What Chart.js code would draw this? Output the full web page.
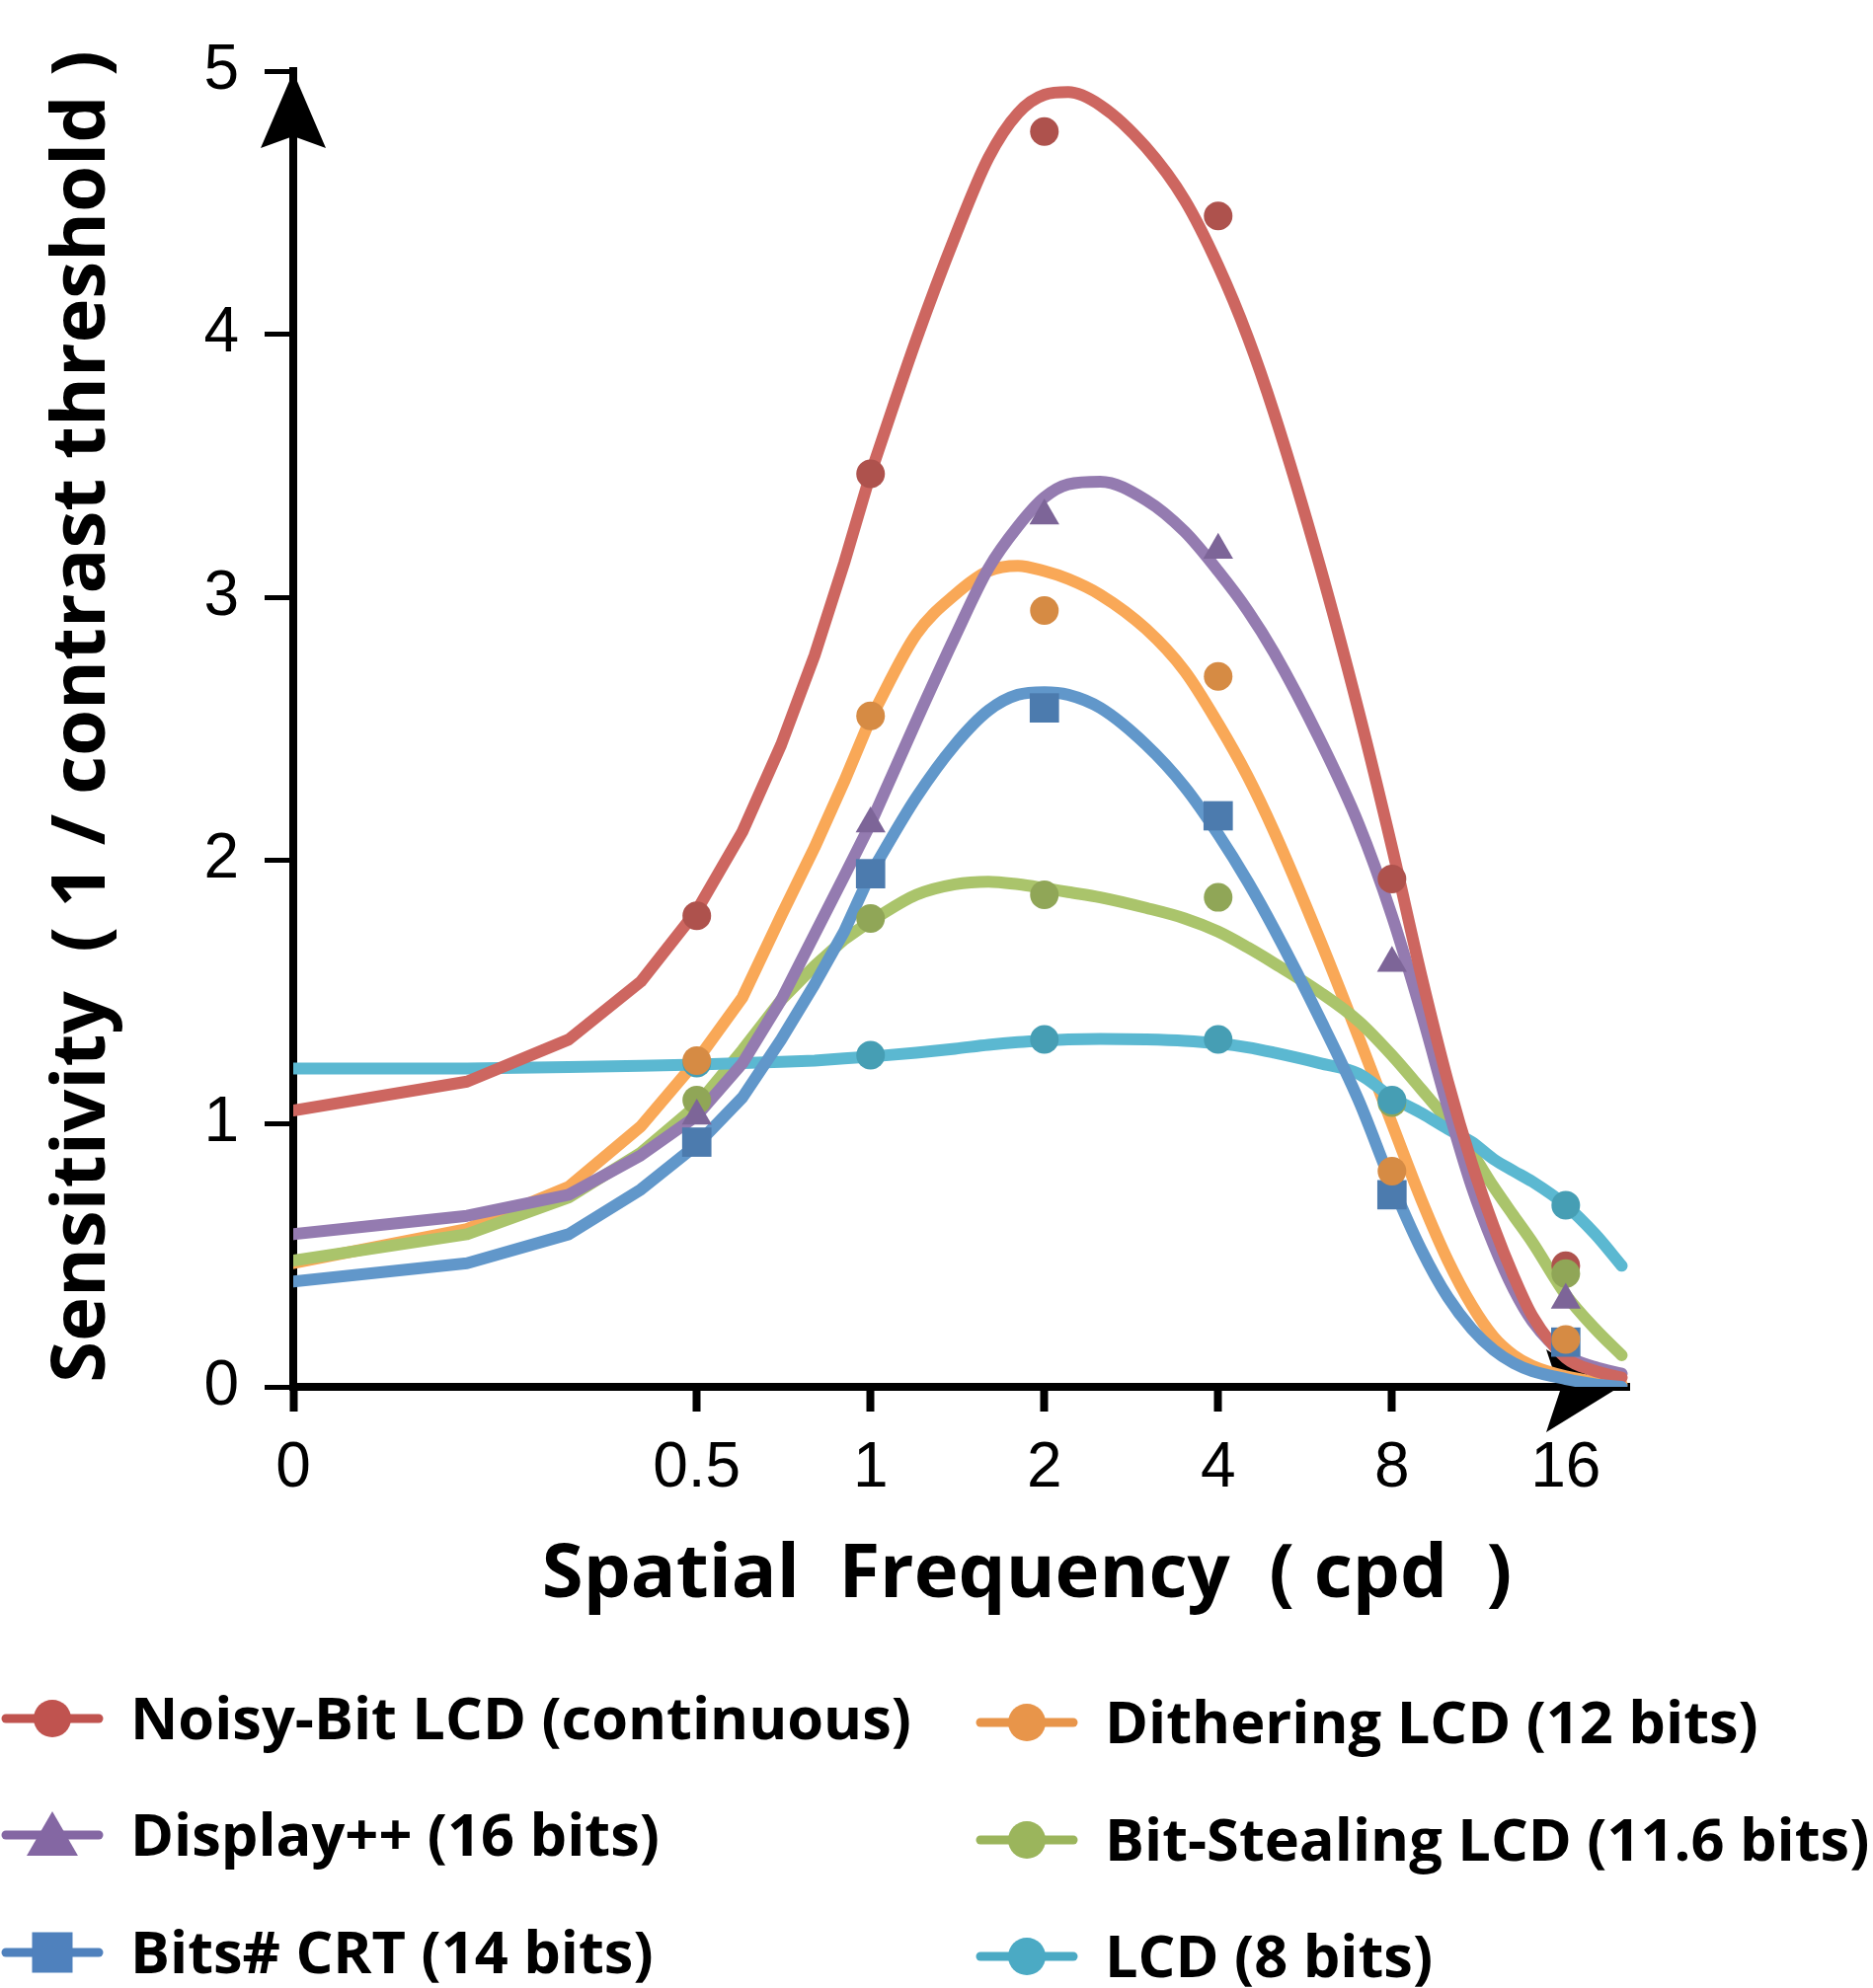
<!DOCTYPE html>
<html>
<head>
<meta charset="utf-8">
<title>Sensitivity vs Spatial Frequency</title>
<script src="https://cdn.jsdelivr.net/npm/chart.js@4.4.1/dist/chart.umd.min.js"></script>
<style>
html,body{margin:0;padding:0;background:#ffffff;}
canvas{display:block;}
</style>
</head>
<body>
<canvas id="chart" width="1897" height="2014"></canvas>
<script>
// ---------- data ----------
const curveFreqs = [0.1,0.2,0.3,0.4,0.5,0.6,0.7,0.8,0.9,1.0,1.2,1.4,1.6,1.8,2.0,2.2,2.5,3.0,3.5,4.0,4.5,5.0,6.0,7.0,8.0,9.0,10,11,12,13,14,16,18,20];

const noisyCurve   = [1.05,1.16,1.32,1.54,1.81,2.11,2.44,2.78,3.13,3.47,3.98,4.37,4.67,4.84,4.91,4.92,4.87,4.71,4.51,4.26,3.99,3.70,3.12,2.57,2.05,1.56,1.16,0.85,0.61,0.42,0.27,0.11,0.06,0.035];
const displayCurve = [0.58,0.65,0.73,0.88,1.03,1.23,1.47,1.72,1.94,2.14,2.53,2.85,3.11,3.27,3.38,3.43,3.44,3.37,3.25,3.10,2.95,2.79,2.46,2.14,1.79,1.42,1.06,0.76,0.54,0.37,0.25,0.12,0.075,0.05];
const bitsCurve    = [0.40,0.47,0.58,0.75,0.92,1.10,1.32,1.53,1.73,1.95,2.24,2.44,2.57,2.63,2.64,2.63,2.58,2.44,2.28,2.10,1.92,1.74,1.40,1.09,0.77,0.52,0.34,0.22,0.14,0.09,0.06,0.03,0.01,0.0];
const ditherCurve  = [0.47,0.60,0.76,0.99,1.24,1.48,1.79,2.05,2.30,2.54,2.86,3.01,3.10,3.12,3.10,3.07,3.01,2.88,2.72,2.52,2.32,2.11,1.70,1.33,1.00,0.71,0.48,0.31,0.19,0.12,0.08,0.04,0.02,0.01];
const stealCurve   = [0.48,0.58,0.72,0.89,1.07,1.28,1.47,1.60,1.70,1.77,1.87,1.91,1.92,1.91,1.895,1.88,1.86,1.82,1.78,1.73,1.67,1.61,1.50,1.39,1.26,1.13,1.01,0.89,0.76,0.65,0.55,0.35,0.22,0.12];
const lcdCurve     = [1.21,1.21,1.215,1.22,1.225,1.23,1.235,1.24,1.248,1.255,1.27,1.285,1.30,1.31,1.316,1.32,1.322,1.32,1.315,1.305,1.29,1.27,1.23,1.19,1.10,1.04,0.98,0.93,0.865,0.82,0.78,0.69,0.58,0.46];

const markerFreqs = [0.5,1,2,4,8,16];
const noisyPts   = [1.79,3.47,4.77,4.45,1.93,0.46];
const displayPts = [1.03,2.14,3.31,3.18,1.61,0.33];
const bitsPts    = [0.93,1.95,2.58,2.17,0.73,0.17];
const ditherPts  = [1.24,2.55,2.95,2.70,0.82,0.18];
const stealPts   = [1.09,1.78,1.87,1.86,1.08,0.43];
const lcdPts     = [1.23,1.26,1.32,1.32,1.09,0.69];

const seriesNames = ['Noisy-Bit LCD (continuous)','Display++ (16 bits)','Bits# CRT (14 bits)',
                     'Dithering LCD (12 bits)','Bit-Stealing LCD (11.6 bits)','LCD (8 bits)'];

const xTickValues = [0.1,0.5,1,2,4,8,16];
const xTickLabels = ['0','0.5','1','2','4','8','16'];
const yTickValues = [0,1,2,3,4,5];

const xTitle = 'Spatial  Frequency  ( cpd  )';
const yTitle = 'Sensitivity  ( 1 / contrast threshold )';

// ---------- styles ----------
const lineColors   = ['#CD6660','#947BB0','#6197CA','#F9A857','#AAC46B','#5BB8D1'];
const markerColors = ['#AE524D','#7D6598','#4C7BAE','#D68B44','#90A657','#469EB4'];
const legendColors = ['#C0534F','#8467A3','#4F81BD','#E8954A','#9BB55C','#4BAAC4'];
const pointStyles  = ['circle','triangle','rect','circle','circle','circle'];
const pointRadii   = [14.5,17.5,21,14.5,14.5,14.5];
const lineOrder    = [2,3,1,6,5,4];
const markerOrder  = [-2,-4,-1,-6,-3,-5];
const splitIndex   = 9; // fitted curve drawn with straight segments up to f = 1.0, smooth after

const curves  = [noisyCurve, displayCurve, bitsCurve, ditherCurve, stealCurve, lcdCurve];
const markers = [noisyPts, displayPts, bitsPts, ditherPts, stealPts, lcdPts];

const datasets = [];
curves.forEach((c, i) => {
  const pts = curveFreqs.map((f, k) => ({x: f, y: c[k]}));
  const common = {
    borderColor: lineColors[i],
    backgroundColor: lineColors[i],
    borderWidth: 12,
    borderCapStyle: 'round',
    borderJoinStyle: 'round',
    pointRadius: 0,
    fill: false,
    order: lineOrder[i]
  };
  datasets.push(Object.assign({label: seriesNames[i] + ' fit (low)', data: pts.slice(0, splitIndex + 1), tension: 0}, common));
  datasets.push(Object.assign({label: seriesNames[i] + ' fit', data: pts.slice(splitIndex), cubicInterpolationMode: 'monotone'}, common));
});
markers.forEach((m, i) => {
  datasets.push({
    label: seriesNames[i],
    data: markerFreqs.map((f, k) => ({x: f, y: m[k]})),
    showLine: false,
    pointStyle: pointStyles[i],
    pointRadius: pointRadii[i],
    pointBackgroundColor: markerColors[i],
    pointBorderColor: markerColors[i],
    pointBorderWidth: 0,
    order: markerOrder[i]
  });
});

function drawShape(ctx, style, x, y, r) {
  ctx.beginPath();
  if (style === 'circle') {
    ctx.arc(x, y, r, 0, Math.PI * 2);
  } else if (style === 'triangle') {
    const a0 = 0, a1 = 2 * Math.PI / 3, a2 = 4 * Math.PI / 3;
    ctx.moveTo(x + Math.sin(a0) * r, y - Math.cos(a0) * r);
    ctx.lineTo(x + Math.sin(a1) * r, y - Math.cos(a1) * r);
    ctx.lineTo(x + Math.sin(a2) * r, y - Math.cos(a2) * r);
    ctx.closePath();
  } else {
    const s = r * Math.SQRT1_2;
    ctx.rect(x - s, y - s, 2 * s, 2 * s);
  }
  ctx.fill();
}

const decor = {
  id: 'decor',
  beforeDatasetsDraw(chart) {
    const {ctx, chartArea: a} = chart;
    ctx.save();
    ctx.fillStyle = '#000';
    // y-axis arrow head
    const x0 = a.left, t = a.top;
    ctx.beginPath();
    ctx.moveTo(x0, t + 1);
    ctx.lineTo(x0 + 33, t + 78);
    ctx.lineTo(x0, t + 66);
    ctx.lineTo(x0 - 33, t + 78);
    ctx.closePath();
    ctx.fill();
    // x-axis arrow head
    const y0 = a.bottom + 4, tip = a.right - 16;
    ctx.beginPath();
    ctx.moveTo(tip, y0);
    ctx.lineTo(tip - 68, y0 - 42);
    ctx.lineTo(tip - 54, y0);
    ctx.lineTo(tip - 68, y0 + 42);
    ctx.closePath();
    ctx.fill();
    ctx.restore();
  },
  afterDraw(chart) {
    const {ctx} = chart;
    ctx.save();
    ctx.fillStyle = '#000';
    // x title
    ctx.font = 'bold 76px "Open Sans"';
    ctx.textAlign = 'center';
    ctx.textBaseline = 'alphabetic';
    ctx.fillText(xTitle, 1040, 1618);
    // y title
    ctx.save();
    ctx.translate(106, 726);
    ctx.rotate(-Math.PI / 2);
    ctx.font = 'bold 76px "Open Sans"';
    ctx.fillText(yTitle, 0, 0);
    ctx.restore();
    // legend
    const cols = [53, 1040];
    const rowsY = [[1741, 1859, 1978], [1745, 1864, 1982]];
    const legendR = [19, 30, 29, 19, 19, 19];
    ctx.font = 'bold 59.5px "Open Sans"';
    ctx.textAlign = 'left';
    for (let i = 0; i < 6; i++) {
      const col = i < 3 ? 0 : 1, row = i % 3;
      const cx = cols[col], cy = rowsY[col][row];
      ctx.strokeStyle = legendColors[i];
      ctx.lineWidth = 9;
      ctx.lineCap = 'round';
      ctx.beginPath();
      ctx.moveTo(cx - 47, cy);
      ctx.lineTo(cx + 47, cy);
      ctx.stroke();
      ctx.fillStyle = legendColors[i];
      const ry = pointStyles[i] === 'triangle' ? cy + 6 : cy;
      drawShape(ctx, pointStyles[i], cx, ry, legendR[i]);
      ctx.fillStyle = '#000';
      ctx.fillText(seriesNames[i], cx + 79, cy + 21);
    }
    ctx.restore();
  }
};

new Chart(document.getElementById('chart').getContext('2d'), {
  type: 'line',
  data: {datasets},
  options: {
    responsive: false,
    animation: false,
    devicePixelRatio: 1,
    layout: {padding: {left: 0, right: 247, top: 72, bottom: 0}},
    plugins: {legend: {display: false}, tooltip: {enabled: false}},
    scales: {
      x: {
        type: 'logarithmic',
        position: 'bottom',
        min: 0.1,
        max: 20.6,
        afterBuildTicks: s => { s.ticks = xTickValues.map(v => ({value: v})); },
        afterFit: s => { s.height = 609; },
        ticks: {
          autoSkip: false, maxRotation: 0, minRotation: 0,
          padding: 20, color: '#000',
          font: {family: '"Liberation Sans", Arial, sans-serif', size: 64},
          callback: (v, i) => xTickLabels[i]
        },
        grid: {display: true, drawOnChartArea: false, drawTicks: true, tickLength: 25, tickWidth: 8, tickColor: '#000', color: '#000'},
        border: {display: true, color: '#000', width: 8}
      },
      y: {
        type: 'linear',
        position: 'left',
        min: 0,
        max: 5,
        afterBuildTicks: s => { s.ticks = yTickValues.map(v => ({value: v})); },
        afterFit: s => { s.width = 297; },
        ticks: {
          padding: 26, color: '#000',
          font: {family: '"Liberation Sans", Arial, sans-serif', size: 64}
        },
        grid: {display: true, drawOnChartArea: false, drawTicks: true, tickLength: 29, tickWidth: 5, tickColor: '#000', color: '#000'},
        border: {display: true, color: '#000', width: 8}
      }
    }
  },
  plugins: [decor]
});
</script>
</body>
</html>
